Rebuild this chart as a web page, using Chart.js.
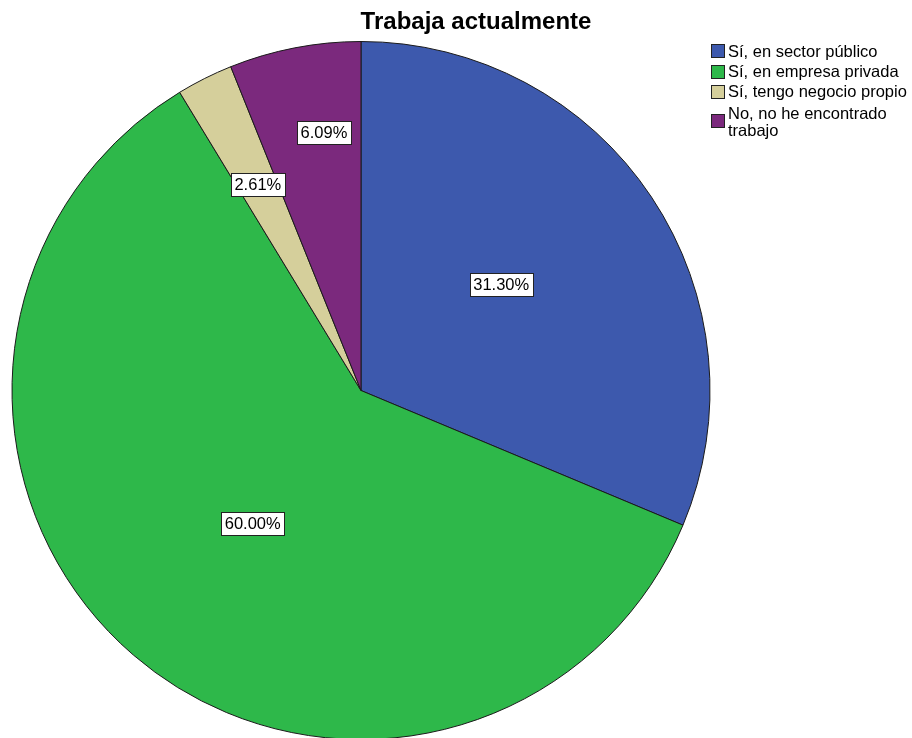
<!DOCTYPE html>
<html>
<head>
<meta charset="utf-8">
<script src="https://cdn.jsdelivr.net/npm/chart.js@4/dist/chart.umd.min.js"></script>
<style>
html,body{margin:0;padding:0;background:#fff;overflow:hidden;}
#wrap{position:relative;width:912px;height:740px;}
</style>
</head>
<body>
<div id="wrap"><canvas id="c" width="912" height="740"></canvas></div>
<script>
const chartTitle = "Trabaja actualmente";
const categories = ["Sí, en sector público", "Sí, en empresa privada", "Sí, tengo negocio propio", "No, no he encontrado trabajo"];
const legendLines = [["Sí, en sector público"], ["Sí, en empresa privada"], ["Sí, tengo negocio propio"], ["No, no he encontrado", "trabajo"]];
const counts = [36, 69, 3, 7];
const colors = ["#3d59ad", "#2eb84a", "#d5cf9b", "#7b297d"];
const labelRadius = [0.504, 0.492, 0.66, 0.748];
const labelAngleShift = [-3.5, -1.6, 0, 2.8];

const total = counts.reduce((a, b) => a + b, 0);
const FONT = "'Liberation Sans', Arial, sans-serif";

const overlay = {
  id: 'overlay',
  afterDatasetsDraw(chart) {
    const ctx = chart.ctx;
    const meta = chart.getDatasetMeta(0);
    ctx.save();
    ctx.font = "16.5px " + FONT;
    ctx.textAlign = "center";
    ctx.textBaseline = "middle";
    meta.data.forEach((arc, i) => {
      const p = arc.getProps(['x', 'y', 'startAngle', 'endAngle', 'outerRadius'], true);
      const mid = (p.startAngle + p.endAngle) / 2 + labelAngleShift[i] * Math.PI / 180;
      const r = p.outerRadius * labelRadius[i];
      const cx = p.x + Math.cos(mid) * r;
      const cy = p.y + Math.sin(mid) * r;
      const txt = (counts[i] / total * 100).toFixed(2) + "%";
      const w = Math.round(ctx.measureText(txt).width + 7);
      const h = 23;
      const x0 = Math.round(cx - w / 2) + 0.5, y0 = Math.round(cy - h / 2) + 0.5;
      ctx.fillStyle = "#fff";
      ctx.fillRect(x0, y0, w, h);
      ctx.strokeStyle = "#222";
      ctx.lineWidth = 1;
      ctx.strokeRect(x0, y0, w, h);
      ctx.fillStyle = "#000";
      ctx.fillText(txt, cx, cy + 1);
    });
    // title
    ctx.font = "bold 24px " + FONT;
    ctx.fillStyle = "#000";
    ctx.textAlign = "center";
    ctx.fillText(chartTitle, 476, 22);
    // legend
    ctx.font = "16.5px " + FONT;
    ctx.textAlign = "left";
    const rowY = [51, 71.5, 91.5, 120.5];
    legendLines.forEach((lines, i) => {
      const y = rowY[i];
      ctx.fillStyle = colors[i];
      ctx.fillRect(711.5, Math.round(y - 7) + 0.5, 13, 13);
      ctx.strokeStyle = "#222";
      ctx.strokeRect(711.5, Math.round(y - 7) + 0.5, 13, 13);
      ctx.fillStyle = "#000";
      if (lines.length === 1) {
        ctx.fillText(lines[0], 728, y + 1);
      } else {
        ctx.fillText(lines[0], 728, y - 6);
        ctx.fillText(lines[1], 728, y + 11);
      }
    });
    ctx.restore();
  }
};

new Chart(document.getElementById('c'), {
  type: 'pie',
  data: {
    labels: categories,
    datasets: [{
      data: counts,
      backgroundColor: colors,
      borderColor: "#1a1a1a",
      borderWidth: 1,
      hoverOffset: 0
    }]
  },
  options: {
    responsive: false,
    animation: false,
    events: [],
    layout: { padding: { left: 11, right: 201, top: 41, bottom: -1 } },
    plugins: {
      legend: { display: false },
      title: { display: false },
      tooltip: { enabled: false }
    }
  },
  plugins: [overlay]
});
</script>
</body>
</html>
